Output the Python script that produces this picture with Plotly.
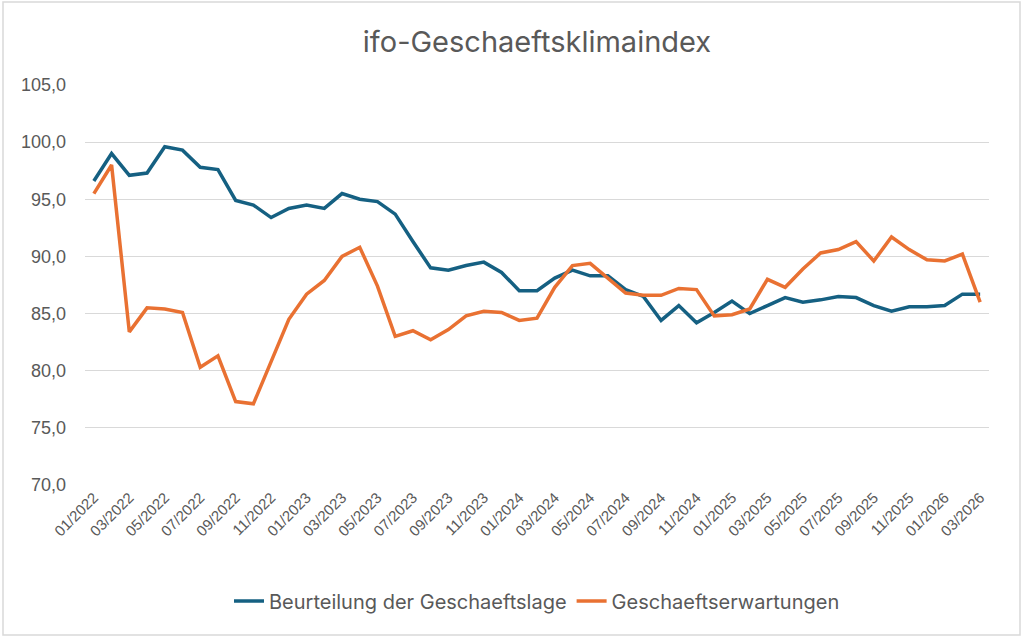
import plotly.graph_objects as go

months = [f"{m:02d}/{y}" for y in range(2022, 2027) for m in range(1, 13)][:51]

lage = [96.6, 99.0, 97.1, 97.3, 99.6, 99.3, 97.8, 97.6, 94.9, 94.5, 93.4, 94.2,
        94.5, 94.2, 95.5, 95.0, 94.8, 93.7, 91.3, 89.0, 88.8, 89.2, 89.5, 88.6,
        87.0, 87.0, 88.1, 88.8, 88.3, 88.3, 87.1, 86.5, 84.4, 85.7, 84.2, 85.1,
        86.1, 85.0, 85.7, 86.4, 86.0, 86.2, 86.5, 86.4, 85.7, 85.2, 85.6, 85.6,
        85.7, 86.7, 86.7]

erwartungen = [95.5, 98.0, 83.4, 85.5, 85.4, 85.1, 80.3, 81.3, 77.3, 77.1, 80.8, 84.5,
               86.7, 87.9, 90.0, 90.8, 87.4, 83.0, 83.5, 82.7, 83.6, 84.8, 85.2, 85.1,
               84.4, 84.6, 87.3, 89.2, 89.4, 88.1, 86.8, 86.6, 86.6, 87.2, 87.1, 84.8,
               84.9, 85.4, 88.0, 87.3, 88.9, 90.3, 90.6, 91.3, 89.6, 91.7, 90.6, 89.7,
               89.6, 90.2, 86.0]

tick_labels = months[::2]
y_ticks = [70, 75, 80, 85, 90, 95, 100, 105]
y_tick_text = [f"{v:.1f}".replace(".", ",") for v in y_ticks]

fig = go.Figure()
fig.add_trace(go.Scatter(x=months, y=lage, mode="lines", name="Beurteilung der Geschaeftslage",
                         line=dict(color="#156082", width=3.5)))
fig.add_trace(go.Scatter(x=months, y=erwartungen, mode="lines", name="Geschaeftserwartungen",
                         line=dict(color="#E97132", width=3.5)))

L, R, T, B = 85, 35, 85, 155
W, H = 1024, 640
pw, ph = W - L - R, H - T - B

def px_to_paper_x(px):
    return (px - L) / pw

def px_to_paper_y(py):
    return (H - B - py) / ph

fig.add_shape(type="rect", xref="paper", yref="paper",
              x0=px_to_paper_x(3), x1=px_to_paper_x(1020),
              y0=px_to_paper_y(635), y1=px_to_paper_y(2),
              line=dict(color="#D9D9D9", width=1.5), fillcolor="rgba(0,0,0,0)", layer="below")

fig.update_layout(
    width=W, height=H,
    margin=dict(l=L, r=R, t=T, b=B),
    paper_bgcolor="white", plot_bgcolor="white",
    title=dict(text="ifo-Geschaeftsklimaindex", x=0.5, xref="paper", xanchor="center",
               y=1 - 42 / H, yanchor="middle",
               font=dict(family="Inter, Open Sans, sans-serif", size=29, color="#595959")),
    xaxis=dict(type="category", range=[-0.5, 50.5], tickmode="array",
               tickvals=tick_labels, ticktext=tick_labels, tickangle=-45,
               showgrid=False, showline=False, ticks="", zeroline=False,
               tickfont=dict(family="Liberation Sans, Arial, sans-serif", size=15, color="#595959")),
    yaxis=dict(range=[70, 105], tickmode="array", tickvals=y_ticks, ticktext=y_tick_text,
               showgrid=True, gridcolor="#D9D9D9", gridwidth=1, zeroline=False, showline=False,
               ticks="", ticklabelstandoff=18,
               tickfont=dict(family="Liberation Sans, Arial, sans-serif", size=18, color="#595959")),
    legend=dict(orientation="h", x=0.5, xanchor="center", y=px_to_paper_y(601), yanchor="middle",
                font=dict(family="Inter, Open Sans, sans-serif", size=20, color="#595959"),
                tracegroupgap=0),
    showlegend=True,
)

fig.write_html("out.html", config={"displayModeBar": False},
               post_script="document.body.style.margin='0';document.body.style.overflow='hidden';")
